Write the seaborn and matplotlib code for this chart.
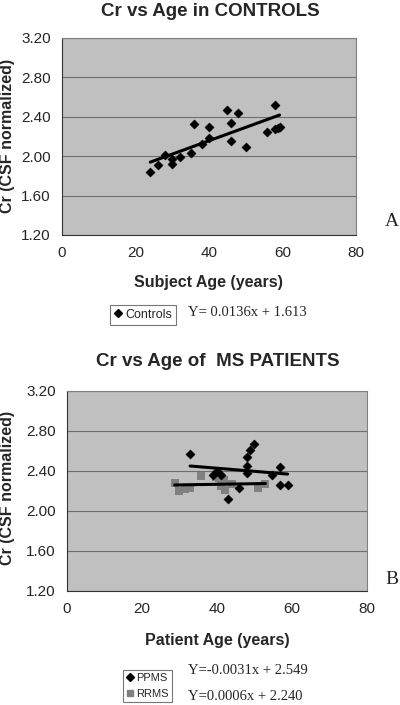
import numpy as np
import pandas as pd
import matplotlib
matplotlib.use("Agg")
import matplotlib.pyplot as plt
import seaborn as sns
from matplotlib.lines import Line2D

# ---- data ----
ctrl_age = [24.0, 26.1, 27.9, 29.9, 30.0, 32.2, 35.0, 36.0, 38.0, 40.0, 40.0,
            45.0, 46.0, 46.0, 47.9, 50.1, 55.9, 58.0, 58.0, 58.7, 59.2]
ctrl_cr = [1.84, 1.91, 2.01, 1.97, 1.92, 1.99, 2.03, 2.33, 2.12, 2.30, 2.18,
           2.47, 2.34, 2.15, 2.44, 2.09, 2.25, 2.52, 2.28, 2.29, 2.30]

ppms_age = [32.9, 38.9, 40.0, 41.1, 42.9, 45.9, 48.0, 48.0, 48.0, 49.0, 49.9,
            54.8, 57.0, 57.0, 58.9]
ppms_cr = [2.57, 2.36, 2.40, 2.36, 2.12, 2.23, 2.38, 2.45, 2.54, 2.61, 2.67,
           2.36, 2.44, 2.26, 2.26]

rrms_age = [28.8, 30.0, 31.5, 33.0, 35.8, 39.8, 40.6, 41.2, 42.0, 42.2, 44.0,
            50.9, 53.0]
rrms_cr = [2.28, 2.20, 2.22, 2.23, 2.35, 2.34, 2.33, 2.25, 2.31, 2.21, 2.27,
           2.23, 2.27]

# trend lines as printed under each chart
ctrl_fit = (0.0136, 1.613)
ppms_fit = (-0.0031, 2.549)
rrms_fit = (0.0006, 2.240)

x_ticks = [0, 20, 40, 60, 80]
y_ticks = [1.20, 1.60, 2.00, 2.40, 2.80, 3.20]

sns.set_style("white")
plt.rcParams['font.family'] = ['Liberation Sans', 'DejaVu Sans']

W, H = 400, 705
fig = plt.figure(figsize=(4.0, 7.05), dpi=100)


def px(x, y):
    return x / W, 1 - y / H


def style_axes(ax):
    ax.set_facecolor("#c0c0c0")
    ax.set_xlim(0, 80)
    ax.set_ylim(1.2, 3.2)
    ax.set_xticks(x_ticks)
    ax.set_yticks(y_ticks)
    ax.set_yticklabels([f"{v:.2f}" for v in y_ticks])
    ax.grid(axis="y", color="#6e6e6e", linewidth=0.8)
    ax.set_axisbelow(True)
    for s in ["top", "right"]:
        ax.spines[s].set_color("#808080")
        ax.spines[s].set_linewidth(0.8)
    for s in ["left", "bottom"]:
        ax.spines[s].set_color("#333333")
        ax.spines[s].set_linewidth(0.8)
    ax.tick_params(axis="both", direction="out", length=4, width=0.8,
                   color="#333333", labelsize=11, pad=4)
    ax.set_xlabel("")
    ax.set_ylabel("")


def add_fit(ax, ages, fit):
    xs = np.array([min(ages), max(ages)])
    line = pd.DataFrame({"age": xs, "cr": fit[0] * xs + fit[1]})
    sns.lineplot(data=line, x="age", y="cr", ax=ax, color="black",
                 linewidth=2.2, legend=False)


# ---- panel A ----
ax1 = fig.add_axes([62 / W, 1 - 235 / H, 294 / W, 197 / H])
df_ctrl = pd.DataFrame({"age": ctrl_age, "cr": ctrl_cr})
sns.scatterplot(data=df_ctrl, x="age", y="cr", ax=ax1, marker="D", s=22,
                color="black", edgecolor="black", linewidth=0.3)
add_fit(ax1, ctrl_age, ctrl_fit)
style_axes(ax1)

fig.text(*px(210, 12), "Cr vs Age in CONTROLS", ha="center", va="center",
         fontsize=13.5, fontweight="bold")
fig.text(*px(208, 283), "Subject Age (years)", ha="center", va="center",
         fontsize=11.5, fontweight="bold")
fig.text(*px(8, 136), "Cr (CSF normalized)", ha="center", va="center",
         rotation=90, fontsize=11.5, fontweight="bold")
fig.text(*px(392, 222), "A", ha="center", va="center", fontsize=14,
         family="Liberation Serif")

h_ctrl = [Line2D([], [], marker="D", linestyle="", color="black", markersize=4)]
leg1 = fig.legend(h_ctrl, ["Controls"], loc="upper left",
                  bbox_to_anchor=px(110, 305), fontsize=9, frameon=True,
                  fancybox=False, edgecolor="#555555", handlelength=0.6,
                  handletextpad=0.3, borderpad=0.3, borderaxespad=0)
leg1.get_frame().set_linewidth(0.8)
fig.text(*px(188, 313), "Y= 0.0136x + 1.613", ha="left", va="center",
         fontsize=10.5, family="Liberation Serif")

# ---- panel B ----
ax2 = fig.add_axes([66.7 / W, 1 - 590.7 / H, 300 / W, 200 / H])
df_rr = pd.DataFrame({"age": rrms_age, "cr": rrms_cr})
df_pp = pd.DataFrame({"age": ppms_age, "cr": ppms_cr})
sns.scatterplot(data=df_rr, x="age", y="cr", ax=ax2, marker="s", s=28,
                color="#808080", edgecolor="#808080", linewidth=0)
sns.scatterplot(data=df_pp, x="age", y="cr", ax=ax2, marker="D", s=22,
                color="black", edgecolor="black", linewidth=0.3)
add_fit(ax2, ppms_age, ppms_fit)
add_fit(ax2, rrms_age, rrms_fit)
style_axes(ax2)

fig.text(*px(218, 361), "Cr vs Age of  MS PATIENTS", ha="center", va="center",
         fontsize=13.5, fontweight="bold")
fig.text(*px(217, 640), "Patient Age (years)", ha="center", va="center",
         fontsize=11.5, fontweight="bold")
fig.text(*px(8, 488), "Cr (CSF normalized)", ha="center", va="center",
         rotation=90, fontsize=11.5, fontweight="bold")
fig.text(*px(392, 580), "B", ha="center", va="center", fontsize=14,
         family="Liberation Serif")

h_ms = [Line2D([], [], marker="D", linestyle="", color="black", markersize=4),
        Line2D([], [], marker="s", linestyle="", color="#808080", markersize=5)]
leg2 = fig.legend(h_ms, ["PPMS", "RRMS"], loc="upper left",
                  bbox_to_anchor=px(123, 670), fontsize=8, frameon=True,
                  fancybox=False, edgecolor="#555555", handlelength=0.6,
                  handletextpad=0.3, borderpad=0.3, borderaxespad=0,
                  labelspacing=0.5)
leg2.get_frame().set_linewidth(0.8)
fig.text(*px(188, 671), "Y=-0.0031x + 2.549", ha="left", va="center",
         fontsize=10.5, family="Liberation Serif")
fig.text(*px(188, 697), "Y=0.0006x + 2.240", ha="left", va="center",
         fontsize=10.5, family="Liberation Serif")

fig.savefig("out.png", dpi=100)
